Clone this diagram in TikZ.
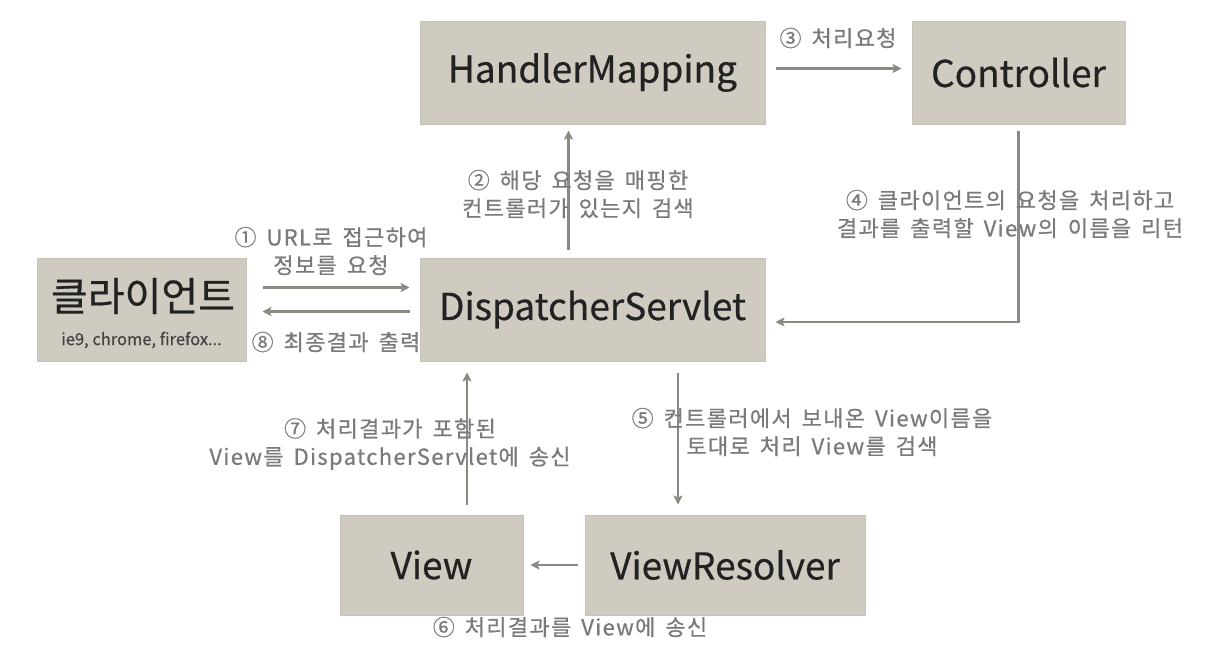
\documentclass[tikz,border=0pt]{standalone}
\usepackage{fontspec}
\setmainfont{Noto Sans CJK KR}
\newfontfamily\lblfont{Noto Sans CJK KR}[LetterSpace=6, WordSpace=1.6, FakeBold=0.6]
\newfontfamily\boxfont{Noto Sans CJK KR}[FakeBold=0.5]
\usetikzlibrary{arrows.meta}
\definecolor{boxfill}{HTML}{CFCBC1}
\definecolor{boxline}{HTML}{C6C2B8}
\definecolor{arr}{HTML}{8C8983}
\definecolor{lbl}{HTML}{7A7A7A}
\definecolor{txt}{HTML}{222222}
\begin{document}
\begin{tikzpicture}[x=1pt,y=-1pt,
  box/.style={draw=boxline, fill=boxfill, line width=1pt, inner sep=0pt, text=txt,
    font=\boxfont\fontsize{37}{42}\selectfont},
  conn/.style={draw=arr, line width=2.2pt, -{Stealth[length=9pt,width=9pt,inset=2pt]}},
  lab/.style={text=lbl, font=\lblfont\fontsize{22}{28}\selectfont, align=center, inner sep=0pt}]
\useasboundingbox (0,0) rectangle (1220,662);
\fill[white] (0,0) rectangle (1220,662);

% boxes
\node[box, minimum width=209pt, minimum height=103pt] (client) at (141.5,309.5) {};
\node[text=txt, font=\boxfont\fontsize{40}{46}\selectfont, inner sep=0pt] (clienttxt) at (143,296) {클라이언트};
\node[text=txt!85, font=\boxfont\fontsize{16.5}{18}\selectfont, inner sep=0pt] (clientsub) at (141.5,340) {ie9, chrome, firefox...};
\node[box, minimum width=345pt, minimum height=103pt] (hm) at (592.5,72.5) {HandlerMapping};
\node[box, minimum width=213pt, minimum height=103pt] (ctrl) at (1018.5,72.5) {Controller};
\node[box, minimum width=345pt, minimum height=103pt] (ds) at (592.5,309.5) {DispatcherServlet};
\node[box, minimum width=183pt, minimum height=100pt] (view) at (431.5,565) {View};
\node[box, minimum width=280pt, minimum height=100pt] (vr) at (725,565) {ViewResolver};

% connectors
\draw[conn] ([xshift=16pt,yshift=22pt]client.east) -- ([xshift=-10pt,yshift=22pt]ds.west);
\draw[conn] ([xshift=-10pt,yshift=-2pt]ds.west) -- ([xshift=16pt,yshift=-2pt]client.east);
\draw[conn] ([xshift=-24pt,yshift=8pt]ds.north) -- ([xshift=-24pt,yshift=-6pt]hm.south);
\draw[conn] ([xshift=10pt,yshift=4pt]hm.east) -- ([xshift=-10pt,yshift=4pt]ctrl.west);
\draw[conn] ([yshift=-6pt]ctrl.south) |- ([xshift=10pt,yshift=-12.5pt]ds.east);
\draw[conn] ([xshift=85.5pt,yshift=-11pt]ds.south) -- ([xshift=-47pt,yshift=10pt]vr.north);
\draw[conn] ([xshift=-7pt]vr.west) -- ([xshift=7pt]view.east);
\draw[conn] ([xshift=35.5pt,yshift=10pt]view.north) -- ([xshift=-125.5pt,yshift=-11pt]ds.south);

% labels
\node[lab] (l1) at (331,251) {① URL로 접근하여\\정보를 요청};
\node[lab] (l8) at (336,342) {⑧ 최종결과 출력};
\node[lab] (l2) at (578,194) {② 해당 요청을 매핑한\\컨트롤러가 있는지 검색};
\node[lab] (l3) at (838,38) {③ 처리요청};
\node[lab] (l4) at (1010,214) {④ 클라이언트의 요청을 처리하고\\결과를 출력할 View의 이름을 리턴};
\node[lab] (l5) at (812,432) {⑤ 컨트롤러에서 보내온 View이름을\\토대로 처리 View를 검색};
\node[lab] (l7) at (390,444) {⑦ 처리결과가 포함된\\View를 DispatcherServlet에 송신};
\node[lab] (l6) at (570,627) {⑥ 처리결과를 View에 송신};
\end{tikzpicture}
\end{document}
